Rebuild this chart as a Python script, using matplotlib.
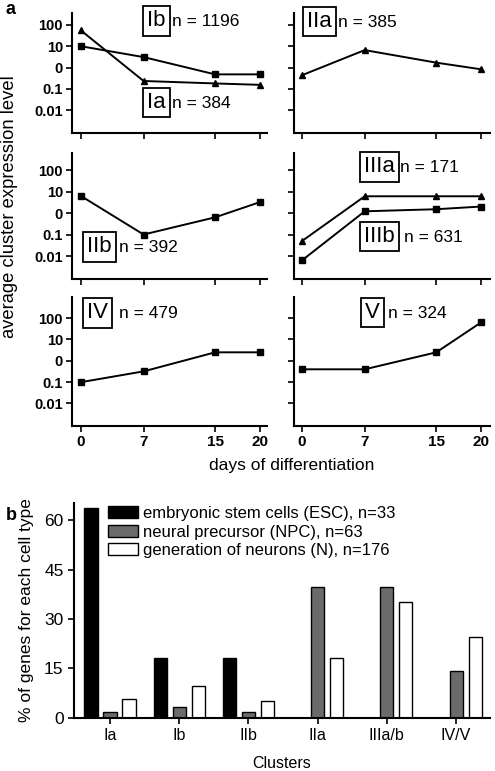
import numpy as np
import matplotlib
matplotlib.use("Agg")
import matplotlib.pyplot as plt
from matplotlib.ticker import FixedLocator, NullLocator

plt.rcParams['font.family'] = ['Liberation Sans', 'DejaVu Sans']

# ---- data: panel a (average cluster expression level, log scale) ----
days = [0, 7, 15, 20]
expr_Ib = [10, 3.1, 0.48, 0.48]
expr_Ia = [55, 0.235, 0.18, 0.155]
expr_IIa = [0.44, 6.6, 1.7, 0.83]
expr_IIb = [6.2, 0.1, 0.63, 3.2]
expr_IIIa = [0.05, 6, 6, 6]
expr_IIIb = [0.0063, 1.2, 1.5, 2.0]
expr_IV = [0.1, 0.32, 2.5, 2.5]
expr_V = [0.4, 0.4, 2.5, 63]

ytick_vals = [100, 10, 1, 0.1, 0.01]
ytick_labels = ['100', '10', '0', '0.1', '0.01']

# ---- data: panel b (% of genes for each cell type) ----
clusters = ['Ia', 'Ib', 'IIb', 'IIa', 'IIIa/b', 'IV/V']
pct_esc = [63.6, 18.2, 18.2, 0, 0, 0]
pct_npc = [1.6, 3.2, 1.6, 39.7, 39.7, 14.3]
pct_n = [5.7, 9.7, 5.1, 18.2, 35.2, 24.4]
legend_labels = ['embryonic stem cells (ESC), n=33',
                 'neural precursor (NPC), n=63',
                 'generation of neurons (N), n=176']

W, H = 495, 771
fig = plt.figure(figsize=(W / 100, H / 100), dpi=100)


def rect(x0, y0, x1, y1):
    # pixel box (top-left origin) -> figure fraction
    return [x0 / W, 1 - y1 / H, (x1 - x0) / W, (y1 - y0) / H]


def px(x, y):
    return x / W, 1 - y / H


LW = 1.5


def style_line_axes(ax, top, show_ylabels, show_xlabels):
    ax.set_yscale('log')
    ax.set_ylim(10 ** -3.05, 10 ** top)
    for s in ['top', 'right']:
        ax.spines[s].set_visible(False)
    for s in ['left', 'bottom']:
        ax.spines[s].set_linewidth(LW)
    ax.yaxis.set_major_locator(FixedLocator(ytick_vals))
    ax.yaxis.set_minor_locator(NullLocator())
    ax.set_xticks(days)
    ax.tick_params(width=1.2, length=4, direction='out', pad=2.5)
    if show_ylabels:
        ax.set_yticklabels(ytick_labels, fontsize=10.5, fontweight='bold')
    else:
        ax.set_yticklabels([])
    if show_xlabels:
        ax.set_xticklabels([str(d) for d in days], fontsize=11, fontweight='bold')
    else:
        ax.set_xticklabels([])
    ax.patch.set_visible(False)


def boxed(bx, nx, y, name, n_text):
    fig.text(*px(bx + 4, y), name, fontsize=16, ha='left', va='center',
             bbox=dict(boxstyle='square,pad=0.2', fc='white', ec='black', lw=1.3))
    fig.text(*px(nx, y + 1), n_text, fontsize=12.5, ha='left', va='center')


rows = [(13.2, 132.6, 2.55), (152.8, 278.6, 2.8), (296.8, 425.9, 3.0)]
left_x = (72, 267, -1.0, 20.8)
right_x = (294, 490, -0.9, 21.0)

panels = [
    [(expr_Ib, 's'), (expr_Ia, '^')], [(expr_IIa, '^')],
    [(expr_IIb, 's')], [(expr_IIIa, '^'), (expr_IIIb, 's')],
    [(expr_IV, 's')], [(expr_V, 's')],
]

for i, (y0, y1, top) in enumerate(rows):
    for j, (x0, x1, xl, xr) in enumerate([left_x, right_x]):
        ax = fig.add_axes(rect(x0, y0, x1, y1))
        for series, mk in panels[i * 2 + j]:
            ax.plot(days, series, color='black', lw=1.4, marker=mk,
                    ms=4 if mk == 's' else 4.5, clip_on=False)
        ax.set_xlim(xl, xr)
        style_line_axes(ax, top, j == 0, i == 2)

boxed(143, 172, 21, 'Ib', 'n = 1196')
boxed(143, 172, 102.5, 'Ia', 'n = 384')
boxed(303, 338, 21.5, 'IIa', 'n = 385')
boxed(83, 119, 247, 'IIb', 'n = 392')
boxed(360, 400, 167, 'IIIa', 'n = 171')
boxed(360, 404, 236.5, 'IIIb', 'n = 631')
boxed(83, 119, 313, 'IV', 'n = 479')
boxed(361, 388, 312.5, 'V', 'n = 324')

fig.text(*px(6, 10), 'a', fontsize=13, fontweight='bold', ha='left', va='center')
fig.text(*px(10, 207), 'average cluster expression level', fontsize=13.2,
         rotation=90, ha='center', va='center')
fig.text(*px(292, 466), 'days of differentiation', fontsize=12.5,
         ha='center', va='center')

# ---- panel b ----
axb = fig.add_axes(rect(74, 502.7, 490, 717.7))
x = np.arange(len(clusters))
bw = 0.19
off = 0.275
axb.bar(x - off, pct_esc, bw, color='black', edgecolor='black', lw=1.0,
        label=legend_labels[0])
axb.bar(x, pct_npc, bw, color='#6b6b6b', edgecolor='black', lw=1.0,
        label=legend_labels[1])
axb.bar(x + off, pct_n, bw, color='white', edgecolor='black', lw=1.0,
        label=legend_labels[2])
axb.set_xlim(-0.52, 5.49)
axb.set_ylim(0, 65.3)
axb.set_yticks([0, 15, 30, 45, 60])
axb.set_yticklabels(['0', '15', '30', '45', '60'], fontsize=12.5)
axb.set_xticks(x)
axb.set_xticklabels(clusters, fontsize=11.5)
axb.tick_params(width=1.2, length=4, direction='out')
for s in ['top', 'right']:
    axb.spines[s].set_visible(False)
for s in ['left', 'bottom']:
    axb.spines[s].set_linewidth(LW)
axb.set_ylabel('% of genes for each cell type', fontsize=12.5, labelpad=7)
axb.set_xlabel('Clusters', fontsize=11.5, labelpad=9)
axb.legend(loc='upper left', bbox_to_anchor=(0.082, 0.985), frameon=False,
           fontsize=12, handlelength=1.8, handleheight=0.72,
           handletextpad=0.3, labelspacing=0.22, borderaxespad=0,
           borderpad=0)
fig.text(*px(6, 515), 'b', fontsize=13, fontweight='bold', ha='left', va='center')

fig.savefig('out.png', dpi=100)
